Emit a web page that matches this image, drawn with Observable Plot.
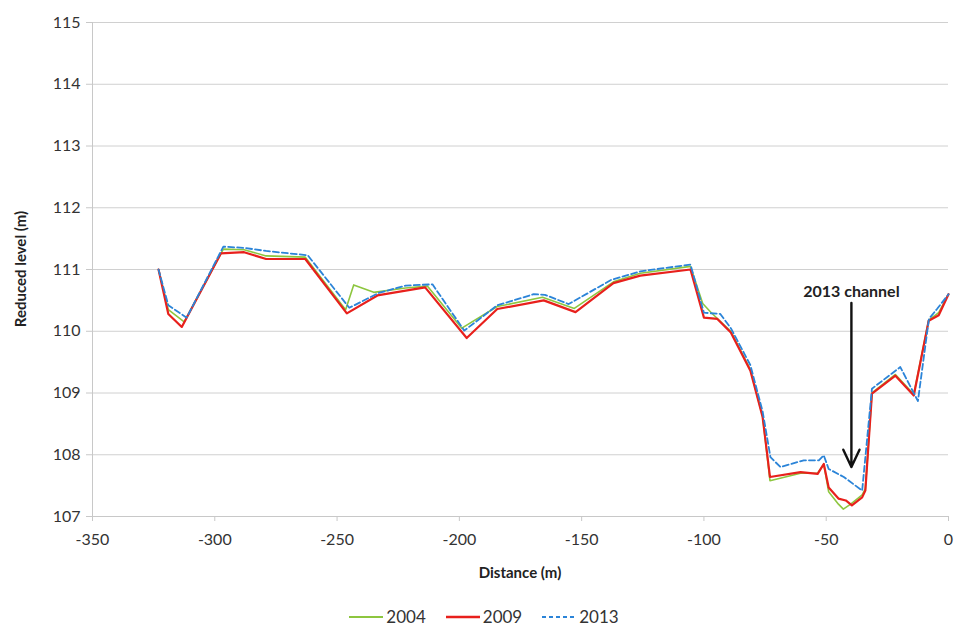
<!DOCTYPE html>
<html>
<head>
<meta charset="utf-8">
<script src="https://cdn.jsdelivr.net/npm/d3@7"></script>
<script src="https://cdn.jsdelivr.net/npm/@observablehq/plot@0.6"></script>
<style>
  body { margin: 0; background: #fff; font-family: Lato, "Open Sans", sans-serif; }
  #legend { display: flex; justify-content: center; align-items: center; gap: 20px; font-size: 17px; color: #333; height: 31px; padding-left: 14px; padding-top: 6px; }
  .item { display: flex; align-items: center; gap: 3px; }
</style>
</head>
<body>
<div id="chart"></div>
<div id="legend"></div>
<script>
const years = ["2004", "2009", "2013"];
const colors = ["#8dc63f", "#e8201c", "#2b84d8"];

const dist2004 = [-323, -319, -312.5, -296.5, -288, -279, -263, -246.5, -243.2, -235, -222, -213, -199, -184.5, -166, -153, -137, -126, -105.5, -100.5, -97, -89, -81, -76, -73, -60.5, -53.5, -51, -49, -45, -43, -40, -35.3, -34, -31.3, -21.7, -14.2, -8.1, -4, 0];
const level2004 = [111.0, 110.35, 110.15, 111.33, 111.32, 111.22, 111.2, 110.35, 110.75, 110.63, 110.7, 110.73, 110.05, 110.4, 110.55, 110.37, 110.8, 110.94, 111.05, 110.45, 110.3, 110.0, 109.38, 108.62, 107.58, 107.7, 107.7, 107.85, 107.4, 107.2, 107.12, 107.2, 107.35, 107.45, 109.0, 109.3, 108.98, 110.18, 110.3, 110.6];

const dist2009 = [-323, -319, -313.5, -297.5, -288, -279, -263, -246, -233.5, -214, -197, -184.5, -165.5, -152.5, -137, -126, -105.5, -100, -94.5, -89, -81, -76, -73, -60.5, -53.5, -51, -49, -45, -42, -39.5, -35.3, -34, -31.3, -21.7, -14.2, -8.1, -4, 0];
const level2009 = [111.0, 110.28, 110.07, 111.26, 111.28, 111.17, 111.17, 110.29, 110.58, 110.71, 109.89, 110.36, 110.5, 110.31, 110.78, 110.9, 111.0, 110.22, 110.2, 109.98, 109.36, 108.61, 107.64, 107.72, 107.69, 107.85, 107.47, 107.29, 107.26, 107.18, 107.31, 107.42, 108.99, 109.28, 108.96, 110.17, 110.26, 110.6];

const dist2013 = [-323, -319, -311.5, -296.5, -288, -279, -262, -245, -233, -222, -211, -198, -184.5, -169.6, -165, -155.3, -138, -126, -105.5, -100, -93.3, -89, -81, -76, -72.8, -68.7, -59.2, -53, -51, -49, -42.8, -35.3, -31.3, -19.7, -12.5, -8, -4.7, 0];
const level2013 = [111.0, 110.42, 110.22, 111.37, 111.35, 111.3, 111.23, 110.38, 110.62, 110.74, 110.76, 110.01, 110.42, 110.6, 110.59, 110.44, 110.83, 110.97, 111.08, 110.3, 110.28, 110.05, 109.45, 108.7, 107.96, 107.8, 107.91, 107.91, 107.99, 107.77, 107.64, 107.42, 109.07, 109.42, 108.87, 110.2, 110.36, 110.6];

const xTicks = [-350, -300, -250, -200, -150, -100, -50, 0];
const yTicks = [107, 108, 109, 110, 111, 112, 113, 114, 115];

const annText = "2013 channel";
const annX = -39.7, annTextY = 110.64, annY1 = 110.46, annY2 = 107.8;

const series = [
  { year: "2004", dist: dist2004, level: level2004 },
  { year: "2009", dist: dist2009, level: level2009 },
  { year: "2013", dist: dist2013, level: level2013 }
];
const rows = series.flatMap(s => s.dist.map((d, i) => ({ year: s.year, dist: d, level: s.level[i] })));

const chart = Plot.plot({
  width: 954,
  height: 595,
  marginLeft: 92,
  marginRight: 6,
  marginTop: 22,
  marginBottom: 79,
  style: { fontFamily: "Lato, 'Open Sans', sans-serif", fontSize: "16px", color: "#333" },
  x: { domain: [-350, 0], label: null },
  y: { domain: [107, 115], label: null },
  marks: [
    Plot.gridY(yTicks, { stroke: "#d0d0d0", strokeOpacity: 1 }),
    Plot.ruleX([-350], { stroke: "#c8c8c8" }),
    Plot.ruleY([107], { stroke: "#c8c8c8" }),
    Plot.axisX({ ticks: xTicks, tickFormat: d => `${d}`, tickSize: 5, tickPadding: 12, stroke: "#c8c8c8", fill: "#333", label: null }),
    Plot.axisY({ ticks: yTicks, tickFormat: d => `${d}`, tickSize: 6, tickPadding: 6, stroke: "#c8c8c8", fill: "#333", label: null }),
    Plot.line(rows.filter(r => r.year === "2004"), { x: "dist", y: "level", stroke: colors[0], strokeWidth: 1.6 }),
    Plot.line(rows.filter(r => r.year === "2009"), { x: "dist", y: "level", stroke: colors[1], strokeWidth: 2.2 }),
    Plot.line(rows.filter(r => r.year === "2013"), { x: "dist", y: "level", stroke: colors[2], strokeWidth: 1.8, strokeDasharray: "6,3" }),
    Plot.arrow([{ x: annX, y1: annY1, y2: annY2 }], { x1: "x", x2: "x", y1: "y1", y2: "y2", stroke: "#111", strokeWidth: 2.4, headLength: 12, headAngle: 50 }),
    Plot.text([{ x: annX, y: annTextY, t: annText }], { x: "x", y: "y", text: "t", fontWeight: "bold", fontSize: 16, fill: "#222" })
  ]
});
document.getElementById("chart").append(chart);

const svg = d3.select(chart);
svg.append("text")
  .attr("transform", "translate(26,269) rotate(-90)")
  .attr("text-anchor", "middle")
  .attr("font-weight", "bold")
  .attr("font-size", 15)
  .attr("fill", "#222")
  .text("Reduced level (m)");
svg.append("text")
  .attr("x", 520)
  .attr("y", 578)
  .attr("text-anchor", "middle")
  .attr("font-weight", "bold")
  .attr("font-size", 15)
  .attr("fill", "#222")
  .text("Distance (m)");

const legend = d3.select("#legend");
years.forEach((y, i) => {
  const it = legend.append("div").attr("class", "item");
  const s = it.append("svg").attr("width", 34).attr("height", 10);
  s.append("line").attr("x1", 0).attr("x2", 34).attr("y1", 5).attr("y2", 5)
    .attr("stroke", colors[i]).attr("stroke-width", i === 1 ? 2.5 : 2)
    .attr("stroke-dasharray", i === 2 ? "4,3" : null);
  it.append("span").text(y);
});
</script>
</body>
</html>
